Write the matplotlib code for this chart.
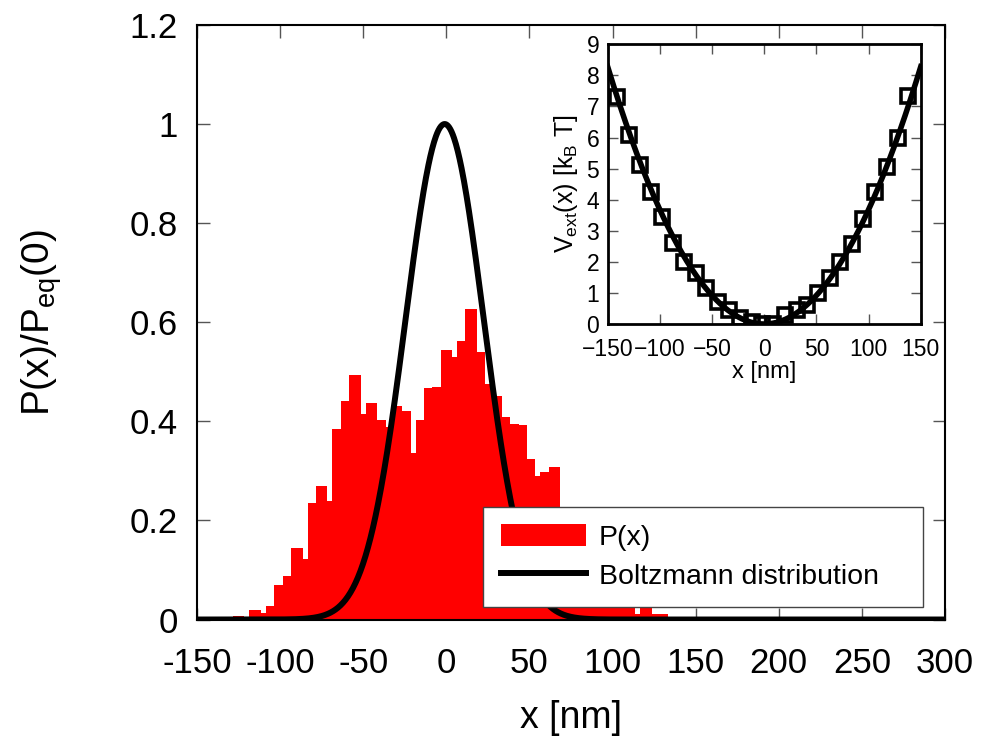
import matplotlib
matplotlib.use('Agg')
import matplotlib.pyplot as plt
from matplotlib.ticker import FuncFormatter
from matplotlib.patches import Patch
from matplotlib.lines import Line2D
import numpy as np

plt.rcParams['font.family'] = ['Liberation Sans', 'DejaVu Sans']
plt.rcParams['mathtext.fontset'] = 'custom'
plt.rcParams['mathtext.rm'] = 'Liberation Sans'
plt.rcParams['mathtext.it'] = 'Liberation Sans:italic'

# --- histogram P(x): bin centres [nm] and normalised heights ---
bin_x = [-125, -120, -115, -110, -105, -100, -95, -90, -85, -80, -75, -70,
         -65, -60, -55, -50, -45, -40, -35, -30, -25, -20, -15, -10, -5,
         0, 5, 10, 15, 20, 25, 30, 35, 40, 45, 50, 55, 60, 65,
         70, 75, 80, 85, 90, 95, 100, 105, 110, 115, 120, 125, 130]
bin_p = [0.007, 0.0, 0.019, 0.0125, 0.027, 0.070, 0.088, 0.145, 0.122, 0.236,
         0.270, 0.240, 0.384, 0.441, 0.494, 0.415, 0.437, 0.403, 0.388, 0.430,
         0.421, 0.336, 0.403, 0.467, 0.470, 0.543, 0.529, 0.563, 0.627, 0.540,
         0.475, 0.452, 0.408, 0.395, 0.392, 0.324, 0.289, 0.297, 0.307,
         0.20, 0.17, 0.15, 0.12, 0.10, 0.08, 0.06, 0.05, 0.035, 0.012, 0.023,
         0.011, 0.011]
box_width = 7  # boxes are wider than the bin spacing, like the original

# Boltzmann curve parameters (centre, width in nm)
boltz_x0 = -1.0
boltz_sigma = 23.5

# --- inset: external potential samples ---
pot_x = [-140.8, -129.6, -119.0, -108.5, -97.7, -87.1, -76.6, -65.4, -55.8,
         -44.6, -33.7, -23.2, -12.0, -2.4, 8.7, 20.0, 31.1, 40.7, 51.9, 63.1,
         72.7, 83.9, 95.0, 106.2, 117.4, 128.0, 138.1]
pot_v = [7.29, 6.08, 5.12, 4.26, 3.45, 2.62, 2.01, 1.63, 1.15, 0.72, 0.45,
         0.20, 0.08, 0.0, 0.0, 0.29, 0.45, 0.61, 0.99, 1.47, 2.01, 2.57, 3.37,
         4.26, 5.06, 5.97, 7.34]
pot_curv = 8.28 / 150**2  # harmonic fit coefficient [kT/nm^2]


def gp_fmt(v, pos):
    return ('%g' % round(v, 6))


fig = plt.figure(figsize=(9.89, 7.43), dpi=100)
ax = fig.add_axes([0.1992, 0.1662, 0.7563, 0.8002])

ax.bar(bin_x, bin_p, width=box_width, color='#ff0000', linewidth=0, zorder=2)

xs = np.linspace(-150, 300, 1200)
ax.plot(xs, np.exp(-(xs - boltz_x0)**2 / (2 * boltz_sigma**2)),
        color='black', lw=4.3, zorder=3, solid_capstyle='butt')

ax.set_xlim(-150, 300)
ax.set_ylim(0, 1.2)
ax.set_xticks(np.arange(-150, 301, 50))
ax.set_yticks(np.arange(0, 1.21, 0.2))
ax.xaxis.set_major_formatter(FuncFormatter(gp_fmt))
ax.yaxis.set_major_formatter(FuncFormatter(gp_fmt))
ax.tick_params(direction='in', length=9, width=1.0, color='#555555',
               top=True, right=True, labelsize=25)
ax.tick_params(axis='x', pad=20)
ax.tick_params(axis='y', pad=14)
for s in ax.spines.values():
    s.set_linewidth(1.5)
ax.set_xlabel('x [nm]', fontsize=27, labelpad=14)
ax.set_ylabel(r'P(x)/P$_{\rm eq}$(0)', fontsize=28, labelpad=47)

handles = [Patch(facecolor='#ff0000', edgecolor='none'),
           Line2D([], [], color='black', lw=4.3)]
leg = ax.legend(handles, ['P(x)', 'Boltzmann distribution'],
                loc='lower left', bbox_to_anchor=(0.383, 0.0215, 0.587, 0.167),
                mode='expand', borderaxespad=0, fancybox=False, fontsize=20.5,
                handlelength=3.0, handleheight=0.8, labelspacing=0.42,
                borderpad=0.6, handletextpad=0.45, framealpha=1)
leg.get_frame().set_edgecolor('#444444')
leg.get_frame().set_linewidth(1.0)
leg.set_zorder(5)

# --- inset ---
axin = fig.add_axes([0.6144, 0.5639, 0.3166, 0.3765])
xp = np.linspace(-150, 150, 400)
axin.plot(xp, pot_curv * xp**2, color='black', lw=4, zorder=3)
axin.plot(pot_x, pot_v, linestyle='none', marker='s', markersize=10.5,
          markerfacecolor='none', markeredgecolor='black',
          markeredgewidth=2.6, zorder=4)
axin.set_xlim(-150, 150)
axin.set_ylim(0, 9)
axin.set_xticks(np.arange(-150, 151, 50))
axin.set_yticks(np.arange(0, 10, 1))
axin.tick_params(direction='in', length=7, width=1.0, color='#555555',
                 top=True, right=True, labelsize=16.5)
axin.tick_params(axis='x', pad=10)
axin.tick_params(axis='y', pad=6)
for s in axin.spines.values():
    s.set_linewidth(2)
axin.set_xlabel('x [nm]', fontsize=17, labelpad=0)
axin.set_ylabel(r'V$_{\rm ext}$(x) [k$_{\rm B}$ T]', fontsize=18, labelpad=5)

fig.savefig('out.png', dpi=100)
